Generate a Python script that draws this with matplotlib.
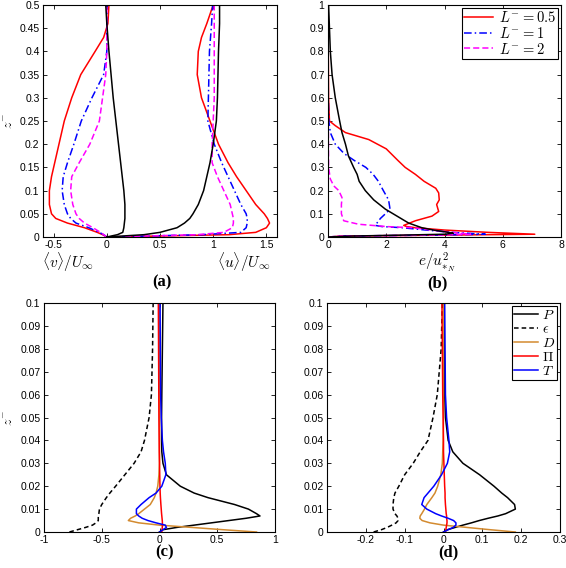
import matplotlib
matplotlib.use("Agg")
import matplotlib.pyplot as plt
from matplotlib.ticker import FuncFormatter

plt.rcParams['font.family'] = ['Liberation Sans', 'DejaVu Sans']
plt.rcParams['mathtext.fontset'] = 'cm'
plt.rcParams['axes.unicode_minus'] = False

# ---------------------------------------------------------------------------
# data (a): mean velocity profiles
# ---------------------------------------------------------------------------
z_a = [0, 0.005, 0.01, 0.02, 0.03, 0.04, 0.05, 0.07, 0.1, 0.13, 0.16, 0.2,
       0.25, 0.3, 0.35, 0.4, 0.43, 0.46, 0.5]
v_l05 = [0, -0.04, -0.09, -0.21, -0.37, -0.48, -0.52, -0.54, -0.54, -0.52, -0.49,
         -0.45, -0.40, -0.33, -0.245, -0.11, -0.03, 0.01, 0.02]
u_l05 = [0, 1.15, 1.40, 1.50, 1.53, 1.51, 1.48, 1.40, 1.31, 1.22, 1.14, 1.05,
         0.97, 0.89, 0.85, 0.86, 0.89, 0.94, 1.0]
v_l1 = [0, -0.03, -0.07, -0.17, -0.29, -0.34, -0.37, -0.40, -0.42, -0.41, -0.37,
        -0.31, -0.24, -0.14, -0.03, 0.0, 0.0, 0.0, 0.0]
u_l1 = [0, 0.9, 1.26, 1.31, 1.32, 1.32, 1.31, 1.26, 1.20, 1.14, 1.08, 1.01,
        0.95, 0.955, 0.96, 0.965, 0.975, 0.985, 0.995]
v_l2 = [0, -0.03, -0.06, -0.13, -0.21, -0.26, -0.29, -0.32, -0.34, -0.33, -0.26,
        -0.16, -0.07, -0.04, -0.01, 0.0, 0.0, 0.0, 0.0]
u_l2 = [0, 0.85, 1.10, 1.18, 1.19, 1.19, 1.18, 1.16, 1.10, 1.04, 0.99, 0.99,
        1.0, 1.01, 1.01, 1.01, 1.01, 1.01, 1.01]
v_neu = [0, 0.1, 0.15, 0.16, 0.165, 0.17, 0.17, 0.17, 0.16, 0.145, 0.13, 0.11,
         0.085, 0.06, 0.04, 0.02, 0.01, 0.0, -0.01]
u_neu = [0, 0.35, 0.5, 0.66, 0.73, 0.78, 0.81, 0.86, 0.91, 0.94, 0.97, 1.0,
         1.03, 1.04, 1.045, 1.05, 1.055, 1.06, 1.06]

# ---------------------------------------------------------------------------
# data (b): TKE profiles
# ---------------------------------------------------------------------------
z_e_l05 = [0, 0.004, 0.008, 0.012, 0.02, 0.03, 0.04, 0.045, 0.05, 0.07, 0.09, 0.11,
           0.14, 0.16, 0.19, 0.21, 0.24, 0.27, 0.3, 0.33, 0.38, 0.42, 0.45, 0.48,
           0.5, 0.6, 0.8, 1.0]
e_l05 = [0, 0.5, 4.0, 7.1, 5.5, 4.0, 3.0, 2.7, 2.6, 3.0, 3.57, 3.8, 3.73, 3.82,
         3.8, 3.7, 3.3, 3.0, 2.65, 2.4, 2.0, 1.4, 0.6, 0.25, 0.05, 0.02, 0.01, 0.0]
z_e_l1 = [0, 0.004, 0.008, 0.012, 0.02, 0.03, 0.04, 0.045, 0.05, 0.08, 0.1, 0.12,
          0.16, 0.2, 0.24, 0.27, 0.3, 0.33, 0.36, 0.4, 0.45, 0.5, 0.6, 1.0]
e_l1 = [0, 0.5, 3.5, 5.4, 4.25, 3.35, 2.55, 1.85, 1.62, 1.8, 1.97, 2.13, 2.08,
        1.9, 1.73, 1.55, 1.3, 0.9, 0.55, 0.25, 0.08, 0.03, 0.01, 0.0]
z_e_l2 = [0, 0.004, 0.008, 0.012, 0.02, 0.03, 0.04, 0.045, 0.055, 0.07, 0.1, 0.14,
          0.17, 0.2, 0.22, 0.25, 0.3, 0.5, 1.0]
e_l2 = [0, 0.5, 3.5, 4.9, 4.25, 3.55, 2.9, 2.0, 1.05, 0.54, 0.46, 0.46, 0.48,
        0.37, 0.2, 0.08, 0.02, 0.01, 0.0]
z_e_neu = [0, 0.004, 0.008, 0.012, 0.016, 0.02, 0.03, 0.04, 0.06, 0.09, 0.12, 0.16,
           0.2, 0.24, 0.27, 0.3, 0.35, 0.4, 0.45, 0.5, 0.6, 0.7, 0.8, 1.0]
e_neu = [0, 0.8, 2.5, 4.0, 4.3, 4.14, 3.62, 3.22, 2.77, 2.37, 1.97, 1.57, 1.28,
         1.07, 1.0, 0.88, 0.7, 0.6, 0.48, 0.4, 0.25, 0.14, 0.08, 0.02]

# ---------------------------------------------------------------------------
# data (c), (d): TKE budget terms
# ---------------------------------------------------------------------------
z_bud = [0, 0.001, 0.002, 0.003, 0.004, 0.005, 0.006, 0.007, 0.008, 0.01, 0.012,
         0.015, 0.017, 0.02, 0.025, 0.03, 0.035, 0.04, 0.05, 0.06, 0.08, 0.1]

P_c = [0, 0.03, 0.15, 0.3, 0.45, 0.6, 0.75, 0.87, 0.84, 0.77, 0.65, 0.42, 0.3,
       0.18, 0.06, 0.03, 0.02, 0.018, 0.018, 0.02, 0.025, 0.03]
eps_c = [-0.78, -0.71, -0.64, -0.58, -0.55, -0.53, -0.53, -0.53, -0.525, -0.52,
         -0.5, -0.46, -0.43, -0.38, -0.3, -0.22, -0.16, -0.13, -0.09, -0.07,
         -0.06, -0.055]
D_c = [0.84, 0.55, 0.28, 0.0, -0.18, -0.27, -0.25, -0.21, -0.18, -0.13, -0.08,
       -0.045, -0.03, -0.015, -0.005, 0, 0, 0, 0, 0, 0, 0]
Pi_c = [0.02, 0.022, 0.024, 0.025, 0.025, 0.024, 0.022, 0.02, 0.018, 0.015, 0.012,
        0.008, 0.006, 0.004, 0.002, 0.0, -0.002, -0.003, -0.005, -0.006, -0.008,
        -0.01]
T_c = [0.0, 0.03, 0.06, 0.05, -0.03, -0.1, -0.15, -0.18, -0.2, -0.2, -0.16, -0.09,
       -0.03, 0.02, 0.055, 0.05, 0.035, 0.025, 0.015, 0.01, 0.007, 0.005]

P_d = [0, 0.01, 0.03, 0.05, 0.072, 0.092, 0.115, 0.14, 0.16, 0.185, 0.183, 0.165,
       0.15, 0.13, 0.093, 0.05, 0.024, 0.012, 0.005, 0.003, 0.002, 0.002]
eps_d = [-0.18, -0.16, -0.145, -0.133, -0.122, -0.117, -0.117, -0.12, -0.125,
         -0.13, -0.13, -0.128, -0.125, -0.115, -0.1, -0.078, -0.06, -0.04, -0.027,
         -0.016, -0.006, -0.003]
D_d = [0.185, 0.12, 0.06, 0.0, -0.035, -0.055, -0.061, -0.06, -0.056, -0.049,
       -0.043, -0.03, -0.022, -0.015, -0.007, -0.003, -0.002, -0.001, 0, 0, 0, 0]
Pi_d = [0.005, 0.006, 0.007, 0.008, 0.009, 0.009, 0.008, 0.008, 0.007, 0.006,
        0.005, 0.004, 0.004, 0.003, 0.002, 0.001, 0.0, 0.0, -0.001, -0.002, -0.003,
        -0.004]
T_d = [0, 0.012, 0.025, 0.032, 0.032, 0.026, 0.012, -0.005, -0.02, -0.043, -0.056,
       -0.05, -0.04, -0.025, -0.005, 0.01, 0.016, 0.014, 0.008, 0.005, 0.004, 0.003]

a_xticks = [-0.5, 0, 0.5, 1, 1.5]
a_yticks = [0, 0.05, 0.1, 0.15, 0.2, 0.25, 0.3, 0.35, 0.4, 0.45, 0.5]
b_xticks = [0, 2, 4, 6, 8]
b_yticks = [0, 0.1, 0.2, 0.3, 0.4, 0.5, 0.6, 0.7, 0.8, 0.9, 1]
c_xticks = [-1, -0.5, 0, 0.5, 1]
d_xticks = [-0.2, -0.1, 0, 0.1, 0.2, 0.3]
bud_yticks = [0, 0.01, 0.02, 0.03, 0.04, 0.05, 0.06, 0.07, 0.08, 0.09, 0.1]

RED = '#ff0000'
BLUE = '#0000ff'
MAG = '#ff00ff'
ORANGE = '#d38a2f'
LW = 1.1

W, H = 566, 568
fig = plt.figure(figsize=(W / 100, H / 100), dpi=100)


def px_axes(l, t, r, b):
    return fig.add_axes([l / W, 1 - b / H, (r - l) / W, (b - t) / H])


def style(ax, xt, yt, xlim, ylim):
    ax.set_xlim(*xlim)
    ax.set_ylim(*ylim)
    ax.set_xticks(xt)
    ax.set_yticks(yt)
    fmt = FuncFormatter(lambda v, p: f"{v:g}")
    ax.xaxis.set_major_formatter(fmt)
    ax.yaxis.set_major_formatter(fmt)
    ax.tick_params(direction='in', top=True, right=True, length=3, width=0.6,
                   labelsize=7.5, pad=2.5)
    for s in ax.spines.values():
        s.set_linewidth(0.8)


ax_a = px_axes(43, 5, 277, 237)
ax_b = px_axes(328, 5, 561, 237)
ax_c = px_axes(44, 303, 275, 532)
ax_d = px_axes(327, 303, 560, 532)

# (a)
ax_a.plot(v_l05, z_a, color=RED, lw=LW)
ax_a.plot(u_l05, z_a, color=RED, lw=LW)
ax_a.plot(v_l1, z_a, color=BLUE, lw=LW, dashes=(5, 2, 1, 2))
ax_a.plot(u_l1, z_a, color=BLUE, lw=LW, dashes=(5, 2, 1, 2))
ax_a.plot(v_l2, z_a, color=MAG, lw=LW, dashes=(4, 2))
ax_a.plot(u_l2, z_a, color=MAG, lw=LW, dashes=(4, 2))
ax_a.plot(v_neu, z_a, color='k', lw=LW)
ax_a.plot(u_neu, z_a, color='k', lw=LW)
style(ax_a, a_xticks, a_yticks, (-0.6, 1.6), (0, 0.5))

# (b)
ax_b.plot(e_l05, z_e_l05, color=RED, lw=LW, label=r'$L^{-}=0.5$')
ax_b.plot(e_l1, z_e_l1, color=BLUE, lw=LW, dashes=(5, 2, 1, 2), label=r'$L^{-}=1$')
ax_b.plot(e_l2, z_e_l2, color=MAG, lw=LW, dashes=(4, 2), label=r'$L^{-}=2$')
ax_b.plot(e_neu, z_e_neu, color='k', lw=LW)
style(ax_b, b_xticks, b_yticks, (0, 8), (0, 1))
leg = ax_b.legend(loc='upper right', fontsize=10.5, handlelength=2.0,
                  handletextpad=0.4, labelspacing=0.05, borderpad=0.15,
                  borderaxespad=0.2, fancybox=False, framealpha=1)
leg.get_frame().set_edgecolor('k')
leg.get_frame().set_linewidth(0.8)

# (c) and (d)
for ax, P, eps, D, Pi, T in [(ax_c, P_c, eps_c, D_c, Pi_c, T_c),
                             (ax_d, P_d, eps_d, D_d, Pi_d, T_d)]:
    ax.plot(P, z_bud, color='k', lw=LW, label=r'$P$')
    ax.plot(eps, z_bud, color='k', lw=LW, dashes=(3, 2), label=r'$\epsilon$')
    ax.plot(D, z_bud, color=ORANGE, lw=LW, label=r'$D$')
    ax.plot(Pi, z_bud, color=RED, lw=LW, label=r'$\Pi$')
    ax.plot(T, z_bud, color=BLUE, lw=LW, label=r'$T$')

style(ax_c, c_xticks, bud_yticks, (-1, 1), (0, 0.1))
style(ax_d, d_xticks, bud_yticks, (-0.3, 0.3), (0, 0.1))
leg = ax_d.legend(loc='upper right', fontsize=10, handlelength=1.7,
                  handletextpad=0.3, labelspacing=0.0, borderpad=0.15,
                  borderaxespad=0.2, fancybox=False, framealpha=1)
leg.get_frame().set_edgecolor('k')
leg.get_frame().set_linewidth(0.8)


# labels around the panels
def ftext(x, y, s, **kw):
    fig.text(x / W, 1 - y / H, s, ha='center', va='center', **kw)


ftext(9, 121, r'$z^{-}$', fontsize=10, rotation=90)
ftext(9, 418, r'$z^{-}$', fontsize=10, rotation=90)
ftext(68, 262, r'$\langle v\rangle/U_{\infty}$', fontsize=11)
ftext(244, 262, r'$\langle u\rangle/U_{\infty}$', fontsize=11)
ftext(437, 262, r'$e/u_{*_{N}}^{2}$', fontsize=11)
bold = dict(fontsize=12, fontweight='bold', family='Liberation Serif')
ftext(162, 282, '(a)', **bold)
ftext(437, 283, '(b)', **bold)
ftext(165, 552, '(c)', **bold)
ftext(448, 552, '(d)', **bold)

fig.savefig('out.png', dpi=100)
